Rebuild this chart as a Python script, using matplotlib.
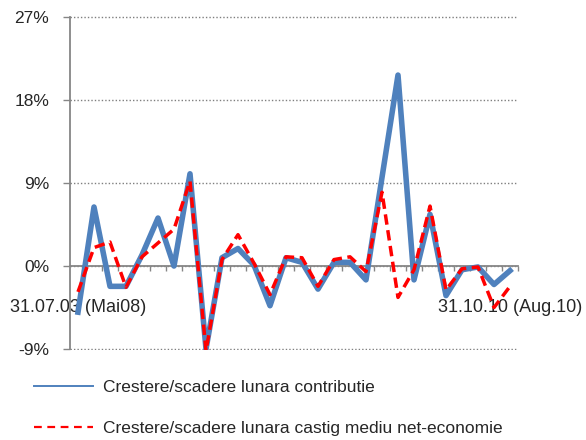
#Imports
import matplotlib
matplotlib.use("Agg")
import matplotlib.pyplot as plt
from matplotlib.lines import Line2D

#Data (monthly change, in %)
contributie = [-5.0, 6.4, -2.2, -2.2, 1.2, 5.2, 0.0, 10.0, -9.0, 0.9, 1.9, 0.1, -4.3, 0.9,
               0.4, -2.5, 0.4, 0.4, -1.5, 9.6, 20.7, -1.5, 5.6, -3.2, -0.4, -0.1, -2.0, -0.5]
castig_mediu = [-2.8, 2.0, 2.6, -2.3, 1.0, 2.5, 4.0, 9.2, -9.2, 0.7, 3.4, 0.3, -3.1, 1.0,
                0.9, -2.2, 0.7, 1.0, -0.6, 8.0, -3.4, -0.4, 6.5, -2.6, -0.3, -0.1, -4.5, -2.2]
first_label = "31.07.03 (Mai08)"
last_label = "31.10.10 (Aug.10)"
yticks = [-9, 0, 9, 18, 27]
ytick_labels = ["-9%", "0%", "9%", "18%", "27%"]
legend_labels = ["Crestere/scadere lunara contributie",
                 "Crestere/scadere lunara castig mediu net-economie"]

#Style
plt.rcParams["font.family"] = ["Liberation Sans", "DejaVu Sans"]
blue, red, axis_gray, text_col = "#4F81BD", "#FF0000", "#868686", "#262626"

fig = plt.figure(figsize=(5.86, 4.4), dpi=100)
ax = fig.add_axes([70/586, 1 - 350/440, 448/586, 334/440])

x = range(len(contributie))
ax.plot(x, contributie, color=blue, lw=4.0, solid_joinstyle="round", zorder=3)
ax.plot(x, castig_mediu, color=red, lw=2.5, linestyle=(0, (3.0, 1.6)), zorder=4)

#Axes
n = len(contributie)
ax.set_xlim(-0.5, n - 0.5)
ax.set_ylim(yticks[0] - 0.1, yticks[-1] + 0.1)
ax.set_yticks(yticks)
ax.set_yticklabels(ytick_labels)
ax.yaxis.grid(True, linestyle=(0, (1, 1.5)), color="#7f7f7f", lw=1.0)
ax.set_axisbelow(True)

for s in ["top", "right"]:
    ax.spines[s].set_visible(False)
ax.spines["bottom"].set_position(("data", 0))
ax.spines["left"].set_bounds(yticks[0], yticks[-1])
for s in ["left", "bottom"]:
    ax.spines[s].set_color(axis_gray)
    ax.spines[s].set_linewidth(1.3)

ax.set_xticks([0, n - 1])
ax.set_xticklabels([first_label, last_label])
ax.set_xticks([i + 0.5 for i in range(n)], minor=True)
ax.tick_params(axis="x", which="major", length=0, pad=24, labelsize=13, labelcolor=text_col)
ax.tick_params(axis="x", which="minor", direction="out", length=3.5, width=1, color=axis_gray)
ax.tick_params(axis="y", length=5, width=1, color=axis_gray, pad=10, labelsize=12.5, labelcolor=text_col)

#Legend
handles = [Line2D([], [], color=blue, lw=1.4),
           Line2D([], [], color=red, lw=1.6, linestyle=(0, (3.5, 2.5)))]
fig.legend(handles, legend_labels, loc="upper left", bbox_to_anchor=(22/586, 1 - 368/440),
           frameon=False, fontsize=12.5, handlelength=3.4, handletextpad=0.55,
           labelspacing=1.5, labelcolor=text_col, borderaxespad=0.3)

plt.savefig("out.png", dpi=100)
